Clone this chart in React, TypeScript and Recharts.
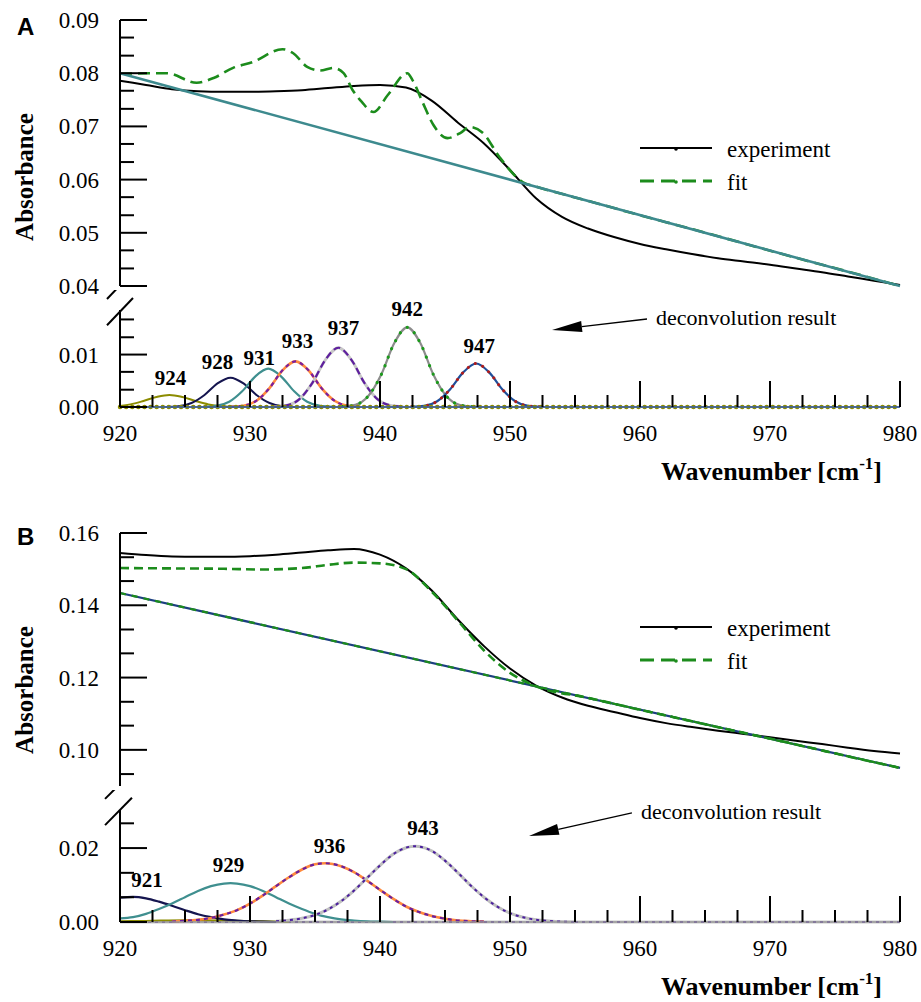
import React from "react";
import { LineChart, Line, XAxis, YAxis, Legend, ReferenceLine, ReferenceDot } from "recharts";

const SERIF = "Liberation Serif, Times New Roman, serif";
const SANS = "Liberation Sans, Arial, sans-serif";
const W = 921;

type Pair = [number, number];

// wavenumber grid of the measured spectra
const wavenumbers = [
  920, 922, 924, 926, 928, 930, 932, 934, 936, 938, 940, 942, 944, 946, 948, 950,
  952, 954, 956, 958, 960, 962, 964, 966, 968, 970, 972, 974, 976, 978, 980,
];

// panel A, upper part
const experimentA = [
  0.0786, 0.0778, 0.077, 0.0766, 0.0765, 0.0765, 0.0766, 0.0768, 0.0772, 0.0776, 0.0778,
  0.0773, 0.0748, 0.0707, 0.0668, 0.0618, 0.0565, 0.053, 0.0508, 0.0492, 0.0479, 0.0469,
  0.046, 0.0452, 0.0446, 0.044, 0.0433, 0.0426, 0.0418, 0.041, 0.0402,
];
const fitA: Pair[] = [
  [920, 0.0799], [923.6, 0.08], [925.9, 0.0782], [927.2, 0.0791], [928.7, 0.081],
  [930.2, 0.0821], [932.5, 0.0845], [933.3, 0.0838], [934.4, 0.0812], [935.4, 0.0805],
  [936.4, 0.081], [937.2, 0.08], [937.9, 0.0768], [938.6, 0.0746], [939.5, 0.0727],
  [940.6, 0.0759], [942.1, 0.08], [942.5, 0.0787], [943.3, 0.0744], [944.1, 0.0703],
  [945.2, 0.0678], [946.2, 0.0688], [946.9, 0.0699], [947.9, 0.0688], [949.2, 0.0642],
  [951, 0.0595], [952, 0.0587], [956, 0.056], [960, 0.0533], [964, 0.0507], [968, 0.048],
  [972, 0.0453], [976, 0.0427], [980, 0.04],
];
const baselineA: Pair[] = [[920, 0.08], [980, 0.04]];

// panel A, deconvoluted bands
const bandA924: Pair[] = [
  [920, 0.0002], [920.8, 0.0005], [921.8, 0.00115], [922.8, 0.0019], [923.8, 0.0023],
  [924.8, 0.0019], [925.8, 0.00115], [926.8, 0.0005], [927.8, 0.00014], [928.8, 0.00003],
];
const bandA928: Pair[] = [
  [923.5, 0.00002], [924.5, 0.00016], [925.5, 0.00076], [926.5, 0.0023], [927.5, 0.0045],
  [928.5, 0.0056], [929.5, 0.0045], [930.5, 0.0023], [931.5, 0.00076], [932.5, 0.00016], [933.5, 0.00002],
];
const bandA931: Pair[] = [
  [926.4, 0.00003], [927.4, 0.0002], [928.4, 0.001], [929.4, 0.003], [930.4, 0.0058],
  [931.4, 0.0073], [932.4, 0.0058], [933.4, 0.003], [934.4, 0.001], [935.4, 0.0002], [936.4, 0.00003],
];
const bandA933: Pair[] = [
  [928.5, 0.00003], [929.5, 0.00024], [930.5, 0.0012], [931.5, 0.0036], [932.5, 0.007],
  [933.5, 0.0087], [934.5, 0.007], [935.5, 0.0036], [936.5, 0.0012], [937.5, 0.00024], [938.5, 0.00003],
];
const bandA937: Pair[] = [
  [931.8, 0.00005], [932.8, 0.0003], [933.8, 0.0015], [934.8, 0.0046], [935.8, 0.009],
  [936.8, 0.0113], [937.8, 0.009], [938.8, 0.0046], [939.8, 0.0015], [940.8, 0.0003], [941.8, 0.00005],
];
const bandA942: Pair[] = [
  [937.1, 0.00006], [938.1, 0.0004], [939.1, 0.0021], [940.1, 0.0062], [941.1, 0.0122],
  [942.1, 0.0152], [943.1, 0.0122], [944.1, 0.0062], [945.1, 0.0021], [946.1, 0.0004], [947.1, 0.00006],
];
const bandA947: Pair[] = [
  [942.4, 0.00003], [943.4, 0.0002], [944.4, 0.0011], [945.4, 0.0034], [946.4, 0.0066],
  [947.4, 0.0083], [948.4, 0.0066], [949.4, 0.0034], [950.4, 0.0011], [951.4, 0.0002], [952.4, 0.00003],
];
const bandLabelsA = ["924", "928", "931", "933", "937", "942", "947"];

// panel B, upper part
const experimentB = [
  0.1545, 0.1539, 0.1535, 0.1534, 0.1534, 0.1536, 0.154, 0.1546, 0.1552, 0.1556, 0.154,
  0.1502, 0.144, 0.136, 0.1287, 0.1225, 0.1178, 0.1145, 0.1122, 0.1105, 0.1088, 0.1074,
  0.1063, 0.1053, 0.1044, 0.1035, 0.1025, 0.1016, 0.1006, 0.0997, 0.099,
];
const fitB: Pair[] = [
  [920, 0.1503], [924, 0.1502], [928, 0.1501], [931, 0.1499], [934, 0.1503], [936, 0.1512],
  [938, 0.1518], [940, 0.1516], [942, 0.15], [944, 0.1437], [946, 0.1357], [948, 0.1275],
  [950, 0.1213], [952, 0.1176], [956, 0.1144], [960, 0.1111], [964, 0.1079], [968, 0.1047],
  [972, 0.1015], [976, 0.0982], [980, 0.095],
];
const baselineB: Pair[] = [[920, 0.1434], [980, 0.095]];

// panel B, deconvoluted bands
const bandB921: Pair[] = [
  [920, 0.0066], [921, 0.0068], [922, 0.0064], [923, 0.0055], [924, 0.0044], [925, 0.0032],
  [926, 0.0021], [927, 0.0013], [928, 0.0007], [929, 0.0004], [930, 0.0002], [931, 0.0001], [932, 0],
];
const bandB929: Pair[] = [
  [920, 0.001], [921, 0.0013], [922, 0.0022], [923, 0.0035], [924, 0.005], [925, 0.0067],
  [926, 0.0084], [927, 0.0097], [928, 0.0104], [928.5, 0.0105], [929, 0.0104], [930, 0.0097],
  [931, 0.0084], [932, 0.0067], [933, 0.005], [934, 0.0035], [935, 0.0022], [936, 0.0013],
  [937, 0.0007], [938, 0.0004], [939, 0.0002], [940, 0.0001], [941, 0],
];
const bandB936: Pair[] = [
  [924, 0.0001], [925, 0.0003], [926, 0.0006], [927, 0.0011], [928, 0.002], [929, 0.0032],
  [930, 0.005], [931, 0.0072], [932, 0.0097], [933, 0.0121], [934, 0.0142], [935, 0.0156],
  [935.8, 0.0159], [937, 0.0151], [938, 0.0135], [939, 0.0112], [940, 0.0087], [941, 0.0063],
  [942, 0.0042], [943, 0.0027], [944, 0.0016], [945, 0.0009], [946, 0.0004], [947, 0.0002], [948, 0.0001],
];
const bandB943: Pair[] = [
  [932, 0.0002], [933, 0.0005], [934, 0.001], [935, 0.0019], [936, 0.0034], [937, 0.0056],
  [938, 0.0085], [939, 0.0119], [940, 0.0153], [941, 0.0183], [942, 0.0201], [942.7, 0.0205],
  [943, 0.0204], [944, 0.0192], [945, 0.0166], [946, 0.0133], [947, 0.0098], [948, 0.0067],
  [949, 0.0042], [950, 0.0024], [951, 0.0013], [952, 0.0006], [953, 0.0003], [954, 0.0001], [955, 0],
];
const bandBSmall: Pair[] = [[920, 0.0002], [922, 0.0003], [925, 0.0005], [928, 0.0004], [931, 0.0002], [933, 0]];
const bandLabelsB = ["921", "929", "936", "943"];

const zeroLine: Pair[] = [[920, 0], [980, 0]];

// axis ticks
const xTicks = [
  920, 922.5, 925, 927.5, 930, 932.5, 935, 937.5, 940, 942.5, 945, 947.5, 950,
  952.5, 955, 957.5, 960, 962.5, 965, 967.5, 970, 972.5, 975, 977.5, 980,
];
const xMajor = [920, 930, 940, 950, 960, 970, 980];
const yTicksAUpper = [
  0.04, 0.0433, 0.0467, 0.05, 0.0533, 0.0567, 0.06, 0.0633, 0.0667, 0.07, 0.0733,
  0.0767, 0.08, 0.0833, 0.0867, 0.09,
];
const yMajorAUpper = [0.04, 0.05, 0.06, 0.07, 0.08, 0.09];
const yTicksALower = [0, 0.0033, 0.0067, 0.01, 0.0133, 0.0167];
const yMajorALower = [0, 0.01];
const yTicksBUpper = [0.0933, 0.1, 0.1067, 0.1133, 0.12, 0.1267, 0.1333, 0.14, 0.1467, 0.1533, 0.16];
const yMajorBUpper = [0.1, 0.12, 0.14, 0.16];
const yTicksBLower = [0, 0.0067, 0.0133, 0.02, 0.0267];
const yMajorBLower = [0, 0.02];

const legendNames = ["experiment", "fit"];

type Stroke = { color: string; width: number; dash?: string; round?: boolean };

const OLIVE = "#8c8c00";
const NAVY = "#15154f";
const TEAL = "#3f8f8f";
const ORANGE = "#ff8a3d";
const PURPLE = "#5e1f9e";
const GREEN = "#1c8c1c";

const stylesA: Stroke[][] = [
  [{ color: OLIVE, width: 2 }],
  [{ color: NAVY, width: 2 }],
  [{ color: TEAL, width: 2.2 }],
  [{ color: ORANGE, width: 2.6 }, { color: "#7a1fa0", width: 2.2, dash: "4 4" }],
  [{ color: "#c8c8c8", width: 2.8 }, { color: PURPLE, width: 2.2, dash: "7 4" }],
  [{ color: "#8c8c8c", width: 2.2 }, { color: "#1c9a1c", width: 3.2, dash: "0.1 9", round: true }],
  [{ color: "#1f4f9a", width: 2.2 }, { color: "#b01c1c", width: 3, dash: "0.1 8", round: true }],
];
const stylesB: Stroke[][] = [
  [{ color: NAVY, width: 2.2 }],
  [{ color: TEAL, width: 2.2 }],
  [{ color: ORANGE, width: 2.6 }, { color: "#6a1fa0", width: 2.2, dash: "4 4" }],
  [{ color: "#c0c0c0", width: 3 }, { color: "#4a1e9e", width: 2, dash: "3 4" }],
];

// pixel nudges of the band labels from the top of each band
const nudgeA: Pair[] = [[1, -10], [-13, -9], [-9, -4], [2, -13], [5, -13], [0, -11], [3, -10]];
const nudgeB: Pair[] = [[14, -10], [-2, -11], [4, -10], [8, -11]];

const toPoints = (pairs: Pair[]) => pairs.map(([x, y]) => ({ x, y }));
const zip = (xs: number[], ys: number[]) => xs.map((x, i) => ({ x, y: ys[i] }));
const isIn = (v: number, list: number[]) => list.some((m) => Math.abs(m - v) < 1e-6);

function lines(id: string, data: { x: number; y: number }[], strokes: Stroke[]) {
  return strokes.map((s, i) => (
    <Line
      key={`${id}-${i}`}
      data={data}
      dataKey="y"
      name={`${id}-${i}`}
      type="monotone"
      stroke={s.color}
      strokeWidth={s.width}
      strokeDasharray={s.dash}
      strokeLinecap={s.round ? "round" : "butt"}
      dot={false}
      activeDot={false}
      legendType="none"
      isAnimationActive={false}
    />
  ));
}

function bandLabel(name: string, pairs: Pair[], nudge: Pair) {
  const top = pairs.reduce((m, p) => (p[1] > m[1] ? p : m), pairs[0]);
  return (
    <ReferenceDot
      key={`lbl-${name}`}
      x={top[0]}
      y={top[1]}
      r={0}
      shape={(p: any) => (
        <text x={p.cx + nudge[0]} y={p.cy + nudge[1]} textAnchor="middle" fontSize={21} fontWeight="bold" fontFamily={SERIF} fill="#000">
          {name}
        </text>
      )}
    />
  );
}

const yTick = (majors: number[]) => (props: any) => {
  const { x, y, payload } = props;
  const major = isIn(payload.value, majors);
  return (
    <g>
      <line x1={x} x2={x + (major ? 27 : 14)} y1={y} y2={y} stroke="#000" strokeWidth={2} />
      {major && (
        <text x={x - 21} y={y + 8} textAnchor="end" fontSize={23} fontFamily={SERIF} fill="#000">
          {payload.value.toFixed(2)}
        </text>
      )}
    </g>
  );
};

const xTick = (props: any) => {
  const { x, y, payload } = props;
  const major = isIn(payload.value, xMajor);
  return (
    <g>
      <line x1={x} x2={x} y1={y} y2={y - (major ? 26 : 12)} stroke="#000" strokeWidth={2} />
      {major && (
        <text x={x} y={y + 34} textAnchor="middle" fontSize={23} fontFamily={SERIF} fill="#000">
          {payload.value}
        </text>
      )}
    </g>
  );
};

const absorbanceLabel = (props: any) => {
  const vb = props.viewBox;
  const cx = vb.x + 33;
  const cy = vb.y + 157;
  return (
    <text x={cx} y={cy} transform={`rotate(-90, ${cx}, ${cy})`} textAnchor="middle" fontSize={25} fontWeight="bold" fontFamily={SERIF} fill="#000">
      Absorbance
    </text>
  );
};

const wavenumberLabel = (props: any) => {
  const vb = props.viewBox;
  return (
    <text x={vb.x + vb.width - 18} y={vb.y + 73} textAnchor="end" fontSize={26} fontWeight="bold" fontFamily={SERIF} fill="#000">
      Wavenumber [cm
      <tspan dy={-11} fontSize={17}>-1</tspan>
      <tspan dy={11}>]</tspan>
    </text>
  );
};

const arrow = (label: string) => (p: any) => {
  const { x1, y1, x2, y2 } = p;
  const len = Math.hypot(x2 - x1, y2 - y1);
  const ux = (x2 - x1) / len;
  const uy = (y2 - y1) / len;
  const bx = x2 - ux * 30;
  const by = y2 - uy * 30;
  const head = `${x2},${y2} ${bx - uy * 5.5},${by + ux * 5.5} ${bx + uy * 5.5},${by - ux * 5.5}`;
  return (
    <g>
      <line x1={x1} y1={y1} x2={bx} y2={by} stroke="#000" strokeWidth={1.3} />
      <polygon points={head} fill="#000" />
      <text x={x1 + 9} y={y1 + 6} fontSize={22} fontFamily={SERIF} fill="#000">
        {label}
      </text>
    </g>
  );
};

const legendContent = (props: any) => {
  const items = (props.payload ?? []).filter((it: any) => legendNames.includes(it.value));
  return (
    <svg width={260} height={80} style={{ overflow: "visible", display: "block" }}>
      {items.map((it: any, i: number) => {
        const y = 14 + i * 33;
        const dashed = it.value === "fit";
        return (
          <g key={it.value}>
            <line x1={0} x2={72} y1={y} y2={y} stroke={it.color} strokeWidth={dashed ? 2.8 : 2.2} strokeDasharray={dashed ? "14 7" : undefined} />
            <circle cx={36} cy={y + 1} r={1.8} fill={it.color} />
            <text x={87} y={y + 9} fontSize={23} fontFamily={SERIF} fill="#000">
              {it.value}
            </text>
          </g>
        );
      })}
    </svg>
  );
};

const axisStroke = { stroke: "#000", strokeWidth: 2 };

function UpperA() {
  return (
    <LineChart width={W} height={300} margin={{ top: 20, right: 21, bottom: 14, left: 0 }}>
      <XAxis type="number" dataKey="x" domain={[920, 980]} hide />
      <YAxis type="number" domain={[0.04, 0.09]} ticks={yTicksAUpper} interval={0} tick={yTick(yMajorAUpper)}
        tickSize={0} tickMargin={0} tickLine={false} axisLine={axisStroke} width={120} label={absorbanceLabel} />
      <Line data={zip(wavenumbers, experimentA)} dataKey="y" name="experiment" type="monotone" stroke="#000"
        strokeWidth={2} dot={false} activeDot={false} isAnimationActive={false} />
      <Line data={toPoints(fitA)} dataKey="y" name="fit" type="monotone" stroke={GREEN} strokeWidth={2.6}
        strokeDasharray="12 6" dot={false} activeDot={false} isAnimationActive={false} />
      {lines("baseA", toPoints(baselineA), [{ color: "#3d8a8e", width: 2.6 }])}
      <Legend layout="horizontal" verticalAlign="middle" align="center" content={legendContent}
        wrapperStyle={{ left: 640, top: 134, width: 260, height: 80 }} />
    </LineChart>
  );
}

function LowerA() {
  const bands = [bandA924, bandA928, bandA931, bandA933, bandA937, bandA942, bandA947];
  return (
    <LineChart width={W} height={200} margin={{ top: 20, right: 21, bottom: 53, left: 0 }}>
      <XAxis type="number" dataKey="x" domain={[920, 980]} ticks={xTicks} interval={0} tick={xTick}
        tickSize={0} tickMargin={0} tickLine={false} axisLine={{ stroke: "#3b5fa0", strokeWidth: 1.5 }} height={30}
        label={wavenumberLabel} />
      <YAxis type="number" domain={[0, 0.0185]} ticks={yTicksALower} interval={0} tick={yTick(yMajorALower)}
        tickSize={0} tickMargin={0} tickLine={false} axisLine={axisStroke} width={120} />
      {bands.flatMap((b, i) => lines(`a${i}`, toPoints(b), stylesA[i]))}
      {lines("zeroA", toPoints(zeroLine), [
        { color: "#3b5fa0", width: 1.5 },
        { color: OLIVE, width: 4.5, dash: "0.1 6", round: true },
      ])}
      {bands.map((b, i) => bandLabel(bandLabelsA[i], b, nudgeA[i]))}
      <ReferenceLine segment={[{ x: 919, y: 0.0206 }, { x: 921, y: 0.0258 }]} ifOverflow="visible" stroke="#000" strokeWidth={2} />
      <ReferenceLine segment={[{ x: 919, y: 0.0156 }, { x: 921, y: 0.0208 }]} ifOverflow="visible" stroke="#000" strokeWidth={2} />
      <ReferenceLine segment={[{ x: 960.54, y: 0.01678 }, { x: 953.23, y: 0.01469 }]} shape={arrow("deconvolution result")} />
    </LineChart>
  );
}

function UpperB() {
  return (
    <LineChart width={W} height={283} margin={{ top: 20, right: 21, bottom: 10, left: 0 }}>
      <XAxis type="number" dataKey="x" domain={[920, 980]} hide />
      <YAxis type="number" domain={[0.09, 0.16]} ticks={yTicksBUpper} interval={0} tick={yTick(yMajorBUpper)}
        tickSize={0} tickMargin={0} tickLine={false} axisLine={axisStroke} width={120} label={absorbanceLabel} />
      <Line data={zip(wavenumbers, experimentB)} dataKey="y" name="experiment" type="monotone" stroke="#000"
        strokeWidth={2} dot={false} activeDot={false} isAnimationActive={false} />
      {lines("baseB", toPoints(baselineB), [
        { color: "#1c3f80", width: 2.2 },
        { color: GREEN, width: 2.2, dash: "6 6" },
      ])}
      <Line data={toPoints(fitB)} dataKey="y" name="fit" type="monotone" stroke={GREEN} strokeWidth={2.6}
        strokeDasharray="9 5" dot={false} activeDot={false} isAnimationActive={false} />
      <Legend layout="horizontal" verticalAlign="middle" align="center" content={legendContent}
        wrapperStyle={{ left: 640, top: 100, width: 260, height: 80 }} />
    </LineChart>
  );
}

function LowerB() {
  const bands = [bandB921, bandB929, bandB936, bandB943];
  return (
    <LineChart width={W} height={212} margin={{ top: 20, right: 21, bottom: 50, left: 0 }}>
      <XAxis type="number" dataKey="x" domain={[920, 980]} ticks={xTicks} interval={0} tick={xTick}
        tickSize={0} tickMargin={0} tickLine={false} axisLine={{ stroke: "#999", strokeWidth: 1.5 }} height={30}
        label={wavenumberLabel} />
      <YAxis type="number" domain={[0, 0.0303]} ticks={yTicksBLower} interval={0} tick={yTick(yMajorBLower)}
        tickSize={0} tickMargin={0} tickLine={false} axisLine={axisStroke} width={120} />
      {lines("zeroB", toPoints(zeroLine), [
        { color: "#c8c8c8", width: 3 },
        { color: "#4a1e9e", width: 2, dash: "3 4" },
      ])}
      {lines("smallB", toPoints(bandBSmall), [{ color: OLIVE, width: 2 }])}
      {bands.flatMap((b, i) => lines(`b${i}`, toPoints(b), stylesB[i]))}
      {bands.map((b, i) => bandLabel(bandLabelsB[i], b, nudgeB[i]))}
      <ReferenceLine segment={[{ x: 918.85, y: 0.0333 }, { x: 920.92, y: 0.0406 }]} ifOverflow="visible" stroke="#000" strokeWidth={2} />
      <ReferenceLine segment={[{ x: 918.85, y: 0.0262 }, { x: 920.92, y: 0.0336 }]} ifOverflow="visible" stroke="#000" strokeWidth={2} />
      <ReferenceLine segment={[{ x: 959.38, y: 0.0295 }, { x: 951.46, y: 0.02327 }]} shape={arrow("deconvolution result")} />
    </LineChart>
  );
}

const panelLetter: React.CSSProperties = {
  position: "absolute",
  left: 17,
  fontFamily: SANS,
  fontWeight: "bold",
  fontSize: 24,
  lineHeight: "24px",
};

export default function App() {
  return (
    <div style={{ position: "absolute", left: 0, top: 0, width: W, height: 1002, background: "#fff", overflow: "hidden" }}>
      <div style={{ position: "absolute", left: 0, top: 0 }}>
        <UpperA />
      </div>
      <div style={{ position: "absolute", left: 0, top: 290 }}>
        <LowerA />
      </div>
      <div style={{ position: "absolute", left: 0, top: 513 }}>
        <UpperB />
      </div>
      <div style={{ position: "absolute", left: 0, top: 790 }}>
        <LowerB />
      </div>
      <div style={{ ...panelLetter, top: 15 }}>A</div>
      <div style={{ ...panelLetter, top: 525 }}>B</div>
    </div>
  );
}
